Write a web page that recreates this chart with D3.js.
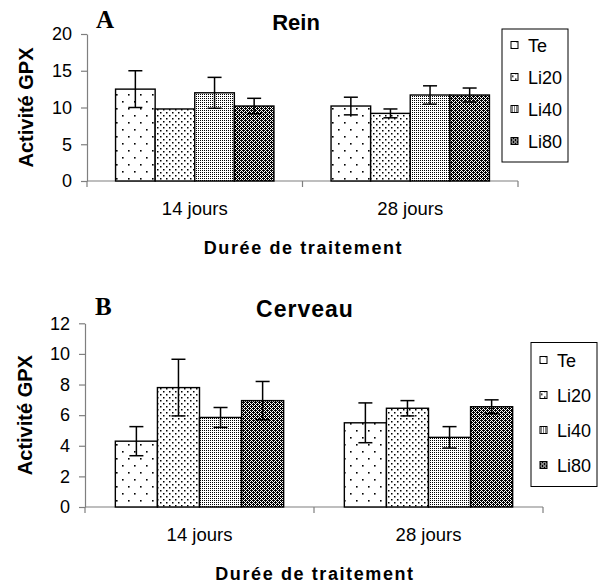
<!DOCTYPE html>
<html>
<head>
<meta charset="utf-8">
<script src="https://cdn.jsdelivr.net/npm/d3@7"></script>
<style>
  body { margin: 0; background: #fff; }
  text { font-family: "Liberation Sans", Arial, sans-serif; fill: #000; }
</style>
</head>
<body>
<div id="chart"></div>
<script>
const categories = ["14 jours", "28 jours"];
const seriesNames = ["Te", "Li20", "Li40", "Li80"];

// one row per series: [14 jours, 28 jours]
const reinMeans = [[12.5, 10.2], [9.8, 9.2], [12.0, 11.7], [10.2, 11.7]];
const reinErrors = [[2.5, 1.2], [0, 0.6], [2.1, 1.25], [1.05, 0.95]];
const reinTicks = [0, 5, 10, 15, 20];

const cerveauMeans = [[4.3, 5.5], [7.8, 6.45], [5.85, 4.55], [6.95, 6.55]];
const cerveauErrors = [[0.95, 1.3], [1.85, 0.5], [0.65, 0.7], [1.25, 0.45]];
const cerveauTicks = [0, 2, 4, 6, 8, 10, 12];

const svg = d3.select("#chart").append("svg")
  .attr("width", 605).attr("height", 583);

// fill patterns, light to dark
const defs = svg.append("defs");
const patterns = [
  { w: 12, h: 14, bg: "#fff", px: [[2, 3, 1.6], [8, 10, 1.6]] },
  { w: 6, h: 6, bg: "#fff", px: [[1, 1, 1.5], [4, 4, 1.5]] },
  { w: 2, h: 2, bg: "#fff", px: [[0, 0, 1]] },
  { w: 4, h: 4, bg: "#000", px: [[3, 0, 1], [0, 1, 1], [2, 1, 1], [1, 2, 1], [0, 3, 1], [2, 3, 1]], dot: "#fff" }
];
patterns.forEach((p, i) => {
  const pat = defs.append("pattern").attr("id", "pat" + i)
    .attr("patternUnits", "userSpaceOnUse").attr("width", p.w).attr("height", p.h);
  pat.append("rect").attr("width", p.w).attr("height", p.h).attr("fill", p.bg);
  pat.selectAll("rect.d").data(p.px).join("rect").attr("class", "d")
    .attr("x", d => d[0]).attr("y", d => d[1]).attr("width", d => d[2]).attr("height", d => d[2])
    .attr("fill", p.dot || "#000");
});

function drawPanel(cfg) {
  const g = svg.append("g");
  const x = d3.scaleBand().domain(categories).range([cfg.left, cfg.right])
    .paddingInner(0.265).paddingOuter(0.1325);
  const xs = d3.scaleBand().domain(seriesNames).range([0, x.bandwidth()]);
  const y = d3.scaleLinear().domain([0, d3.max(cfg.ticks)]).range([cfg.bottom, cfg.top]);

  // y axis
  const yAxis = g.append("g").attr("transform", `translate(${cfg.left},0)`)
    .call(d3.axisLeft(y).tickValues(cfg.ticks).tickSize(6).tickSizeOuter(0).tickPadding(9));
  yAxis.selectAll("line, path").attr("stroke", "#7f7f7f").attr("stroke-width", 1.2);
  yAxis.selectAll("text").attr("font-size", 18).attr("font-family", null);

  // x axis line and category boundary ticks
  g.append("line").attr("x1", cfg.left).attr("x2", cfg.right)
    .attr("y1", cfg.bottom).attr("y2", cfg.bottom).attr("stroke", "#7f7f7f").attr("stroke-width", 1.2);
  g.selectAll("line.bt").data(d3.range(categories.length + 1)).join("line").attr("class", "bt")
    .attr("x1", i => cfg.left + i * x.step()).attr("x2", i => cfg.left + i * x.step())
    .attr("y1", cfg.bottom).attr("y2", cfg.bottom + 6).attr("stroke", "#7f7f7f").attr("stroke-width", 1.2);

  const xAxis = g.append("g").attr("transform", `translate(0,${cfg.bottom})`)
    .call(d3.axisBottom(x).tickSize(0));
  xAxis.select(".domain").remove();
  xAxis.selectAll("text").attr("font-size", 18.5).attr("font-family", null)
    .attr("y", 33.5).attr("dy", null);

  // bars
  const bars = [];
  seriesNames.forEach((s, si) => categories.forEach((c, ci) => {
    bars.push({ s, si, c, v: cfg.means[si][ci], e: cfg.errors[si][ci] });
  }));
  g.selectAll("rect.bar").data(bars).join("rect").attr("class", "bar")
    .attr("x", d => x(d.c) + xs(d.s)).attr("y", d => y(d.v))
    .attr("width", xs.bandwidth()).attr("height", d => y(0) - y(d.v))
    .attr("fill", d => `url(#pat${d.si})`).attr("stroke", "#000").attr("stroke-width", 1.4);

  // error bars
  const eb = g.selectAll("g.err").data(bars.filter(d => d.e > 0)).join("g").attr("class", "err")
    .attr("stroke", "#000").attr("stroke-width", 1.5);
  const cx = d => x(d.c) + xs(d.s) + xs.bandwidth() / 2;
  eb.append("line").attr("x1", cx).attr("x2", cx)
    .attr("y1", d => y(d.v + d.e)).attr("y2", d => y(d.v - d.e));
  eb.append("line").attr("x1", d => cx(d) - 7).attr("x2", d => cx(d) + 7)
    .attr("y1", d => y(d.v + d.e)).attr("y2", d => y(d.v + d.e));
  eb.append("line").attr("x1", d => cx(d) - 7).attr("x2", d => cx(d) + 7)
    .attr("y1", d => y(d.v - d.e)).attr("y2", d => y(d.v - d.e));

  // titles and labels
  g.append("text").attr("x", cfg.letterX).attr("y", cfg.letterY).text(cfg.letter)
    .style("font-family", "'Liberation Serif', 'Times New Roman', serif")
    .attr("font-weight", "bold").attr("font-size", 25);
  g.append("text").attr("x", cfg.titleX).attr("y", cfg.titleY).text(cfg.title)
    .attr("text-anchor", "middle").attr("font-weight", "bold")
    .attr("font-size", cfg.titleSize).attr("letter-spacing", cfg.titleSpacing);
  g.append("text").attr("transform", `translate(${cfg.yLabelX},${(cfg.top + cfg.bottom) / 2}) rotate(-90)`)
    .attr("text-anchor", "middle").attr("font-weight", "bold").attr("font-size", 20)
    .text("Activité GPX");
  g.append("text").attr("x", (cfg.left + cfg.right) / 2 + 1).attr("y", cfg.bottom + 72.5)
    .attr("text-anchor", "middle").attr("font-weight", "bold").attr("font-size", 18)
    .attr("letter-spacing", 1.6).text("Durée de traitement");

  // legend
  const lg = g.append("g").attr("transform", `translate(${cfg.legX},${cfg.legY})`);
  lg.append("rect").attr("width", 66).attr("height", cfg.legH)
    .attr("fill", "#fff").attr("stroke", "#000").attr("stroke-width", 1);
  const items = lg.selectAll("g.item").data(seriesNames).join("g").attr("class", "item")
    .attr("transform", (d, i) => `translate(0,${cfg.legFirst + i * cfg.legStep})`);
  items.append("rect").attr("x", 9).attr("y", -10).attr("width", 7).attr("height", 7)
    .attr("fill", (d, i) => `url(#pat${i})`).attr("stroke", "#000").attr("stroke-width", 1);
  items.append("text").attr("x", 26).attr("font-size", 18).text(d => d);
}

drawPanel({
  means: reinMeans, errors: reinErrors, ticks: reinTicks,
  left: 87, right: 518, top: 34, bottom: 181,
  letter: "A", letterX: 96, letterY: 28,
  title: "Rein", titleX: 296, titleY: 30, titleSize: 22, titleSpacing: 0,
  yLabelX: 33,
  legX: 502, legY: 29, legH: 133, legFirst: 22.5, legStep: 32
});

drawPanel({
  means: cerveauMeans, errors: cerveauErrors, ticks: cerveauTicks,
  left: 85, right: 543, top: 323.3, bottom: 507,
  letter: "B", letterX: 95, letterY: 315,
  title: "Cerveau", titleX: 305, titleY: 317, titleSize: 23, titleSpacing: 1,
  yLabelX: 31.5,
  legX: 531, legY: 342.5, legH: 144, legFirst: 24, legStep: 35
});
</script>
</body>
</html>
